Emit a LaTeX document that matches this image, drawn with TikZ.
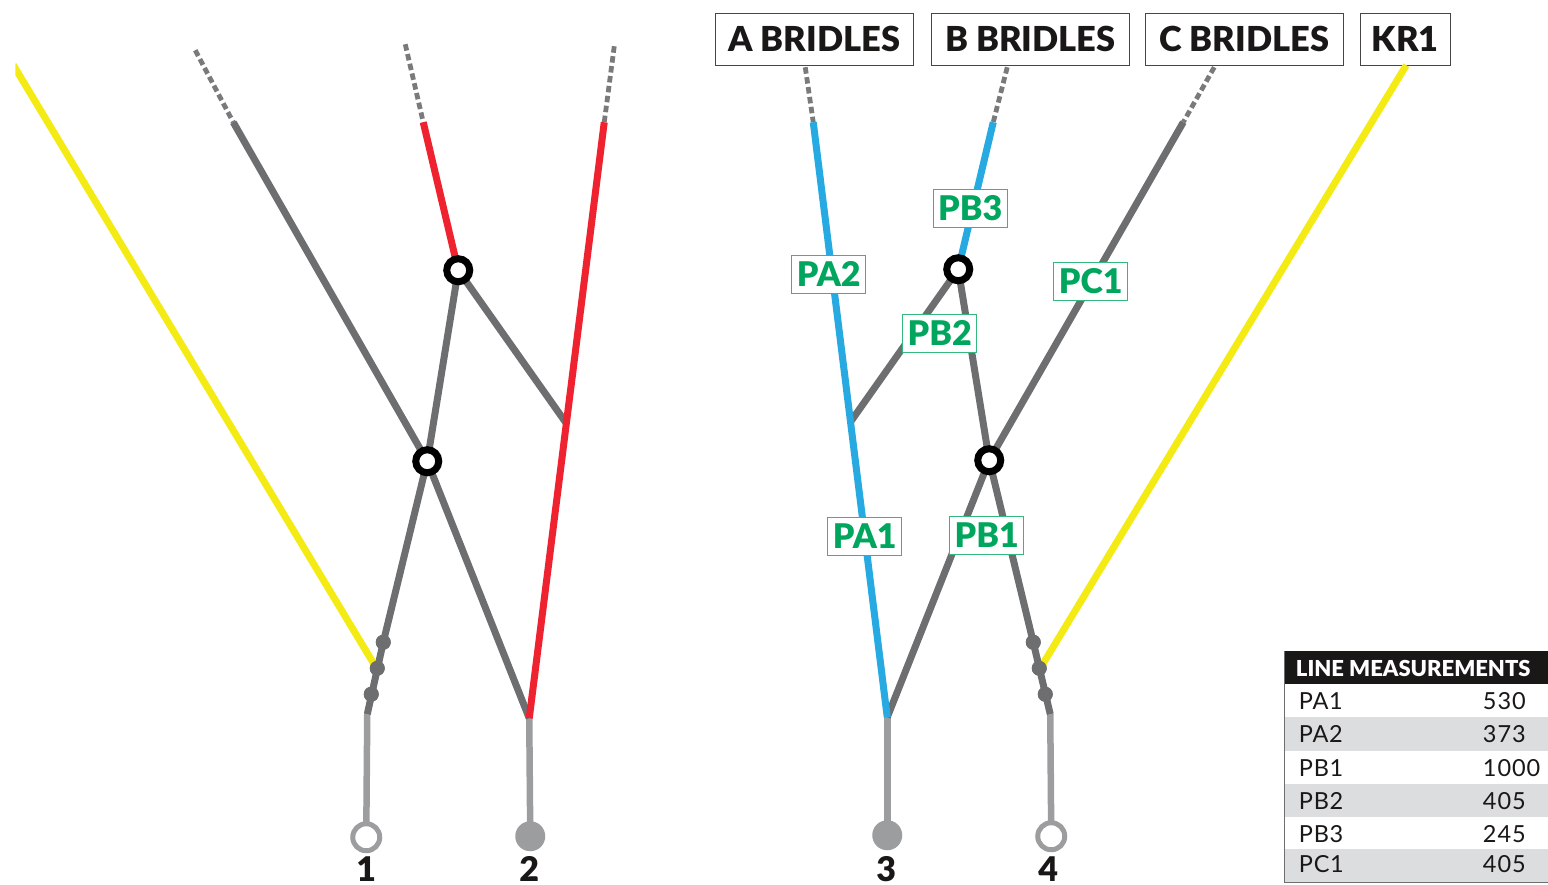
\documentclass[tikz,border=0pt]{standalone}
\usepackage{fontspec}
\setmainfont{Lato}
\newfontfamily\heavy{Lato Black}
\definecolor{dkg}{HTML}{6D6E70}
\definecolor{ltg}{HTML}{9C9D9F}
\definecolor{ylw}{HTML}{F5EB14}
\definecolor{rd}{HTML}{EF2330}
\definecolor{blu}{HTML}{27AAE1}
\definecolor{grn}{HTML}{00A65D}
\definecolor{ink}{HTML}{1A1717}
\definecolor{band}{HTML}{DCDDDF}
\tikzset{
 x=1pt,y=-1pt,
 wire/.style={line width=7pt,line cap=butt},
 graywire/.style={wire,draw=dkg},
 tail/.style={line width=6.5pt,draw=ltg},
 dash wire/.style={line width=4.8pt,draw=dkg!92,dash pattern=on 6.5pt off 3.5pt},
 junc/.style={circle,draw=black,fill=white,line width=7pt,minimum size=23pt,inner sep=0pt},
 bead/.style={circle,fill=dkg,minimum size=15pt,inner sep=0pt},
 openend/.style={circle,draw=ltg,fill=white,line width=5pt,minimum size=27pt,inner sep=0pt},
 fullend/.style={circle,fill=ltg,minimum size=30pt,inner sep=0pt},
 num/.style={font=\heavy\fontsize{34}{34}\selectfont,text=ink,inner sep=0pt},
 topbox/.style={draw=ink!80,fill=white,line width=1.3pt,minimum height=52pt,inner sep=0pt,font=\heavy\fontsize{34.4}{34.4}\selectfont,text=ink},
 tag/.style={draw=grn!80,fill=white,line width=1.1pt,minimum width=74pt,minimum height=38pt,inner sep=0pt,font=\heavy\fontsize{34}{34}\selectfont,text=grn},
 rowbar/.style={minimum width=264pt,minimum height=33.4pt,inner sep=0pt,anchor=north west},
 rowtxt/.style={font=\fontsize{23.5}{23.5}\selectfont,text=ink,anchor=west,inner sep=0pt},
}
\begin{document}
\begin{tikzpicture}
\useasboundingbox (-0.25,-0.25) rectangle (1547.75,884.75);
% free ends and bends
\coordinate (yl) at (13,64.7);
\coordinate (yle) at (375,666);
\coordinate (gd) at (195,50);
\coordinate (gs) at (233,122);
\coordinate (rd1) at (405,44);
\coordinate (rs1) at (423,122);
\coordinate (rd2) at (614,46);
\coordinate (rs2) at (604,122);
\coordinate (rj) at (566,423);
\coordinate (b2) at (529,718);
\coordinate (b1) at (367,714);
\coordinate (asol) at (813,122);
\coordinate (bsol) at (993,122);
\coordinate (csol) at (1183,122);
\coordinate (b3) at (887,717);
\coordinate (b4) at (1050,714);
\coordinate (aj) at (850,422);
\coordinate (yre) at (1040,668);
\coordinate (at) at (805,67);
\coordinate (bt) at (1007,67);
\coordinate (ct) at (1214,67);
\coordinate (kt) at (1406,65);
% nodes
\node[topbox,minimum width=198pt] (A) at (814,39) {A BRIDLES};
\node[topbox,minimum width=198pt] (B) at (1030,39) {B BRIDLES};
\node[topbox,minimum width=198pt] (C) at (1244,39) {C BRIDLES};
\node[topbox,minimum width=90pt] (K) at (1405,39) {KR1};
\node[bead] (l1) at (383,642) {};
\node[bead] (l2) at (377,668) {};
\node[bead] (l3) at (371,694) {};
\node[bead] (r1) at (1033,642) {};
\node[bead] (r2) at (1039,668) {};
\node[bead] (r3) at (1045,694) {};
\coordinate (J1) at (458,270);
\coordinate (J2) at (427,461);
\coordinate (J3) at (958,269);
\coordinate (J4) at (989,460);
\coordinate (e1) at (366,837);
\coordinate (e2) at (530,836);
\coordinate (e3) at (887,835);
\coordinate (e4) at (1051,836);
% left side
\begin{scope}
\clip (15,0) rectangle (1548,885);
\draw[wire,draw=ylw] (yl) -- (yle);
\end{scope}
\draw[dash wire] (gd) -- (gs);
\draw[dash wire] (rd1) -- (rs1);
\draw[dash wire] (rd2) -- (rs2);
\draw[tail] (b1) -- (e1);
\draw[tail] (b2) -- (e2);
\draw[graywire] (gs) -- (J2);
\draw[graywire] (J1) -- (J2);
\draw[graywire] (J1) -- (rj);
\draw[graywire] (J2) -- (l1.center) -- (b1);
\draw[graywire] (J2) -- (b2);
\draw[wire,draw=rd] (rs1) -- (J1);
\draw[wire,draw=rd] (rs2) -- (b2);
% right side
\draw[wire,draw=ylw] (kt) -- (yre);
\draw[dash wire] (at) -- (asol);
\draw[dash wire] (bt) -- (bsol);
\draw[dash wire] (ct) -- (csol);
\draw[tail] (b3) -- (e3);
\draw[tail] (b4) -- (e4);
\draw[graywire] (csol) -- (J4);
\draw[graywire] (J3) -- (aj);
\draw[graywire] (J3) -- (J4);
\draw[graywire] (J4) -- (b3);
\draw[graywire] (J4) -- (r1.center) -- (b4);
\draw[wire,draw=blu] (asol) -- (b3);
\draw[wire,draw=blu] (bsol) -- (J3);
% beads again on top
\node[bead] at (l1) {}; \node[bead] at (l2) {}; \node[bead] at (l3) {};
\node[bead] at (r1) {}; \node[bead] at (r2) {}; \node[bead] at (r3) {};
% junctions, ends
\node[junc] (j1) at (J1) {};
\node[junc] (j2) at (J2) {};
\node[junc] (j3) at (J3) {};
\node[junc] (j4) at (J4) {};
\node[openend] (n1) at (e1) {};
\node[fullend] (n2) at (e2) {};
\node[fullend] (n3) at (e3) {};
\node[openend] (n4) at (e4) {};
\node[num] (t1) at (366,869) {1};
\node[num] (t2) at (529,869) {2};
\node[num] (t3) at (886,869) {3};
\node[num] (t4) at (1048,869) {4};
% tags
\node[tag] (pb3) at (970,208) {PB3};
\node[tag] (pa2) at (828.5,274) {PA2};
\node[tag] (pc1) at (1090.5,281) {PC1};
\node[tag] (pb2) at (939.5,333) {PB2};
\node[tag] (pa1) at (864.5,536) {PA1};
\node[tag] (pb1) at (986.5,535) {PB1};
% table
\node[rowbar,fill=ink,minimum height=33pt] (h) at (1284.5,651) {};
\node[rowbar,fill=white] (r0) at (1284.5,684) {};
\node[rowbar,fill=band] (r4) at (1284.5,717) {};
\node[rowbar,fill=white] (r5) at (1284.5,750.4) {};
\node[rowbar,fill=band] (r6) at (1284.5,783.8) {};
\node[rowbar,fill=white,minimum height=32pt] (r7) at (1284.5,817) {};
\node[rowbar,fill=band,minimum height=33pt] (r8) at (1284.5,849) {};
\draw[line width=1.3pt,draw=dkg] (h.north west) -- (r8.south west) -- (r8.south east);
\node[font=\heavy\fontsize{22}{22}\selectfont,text=white,anchor=west,inner sep=0pt] (ht) at (1295.5,668) {LINE MEASUREMENTS};
\foreach \n/\a/\b/\y in {a/PA1/530/701,b/PA2/373/734,c/PB1/1000/768,d/PB2/405/801,e/PB3/245/834,f/PC1/405/864}{
  \node[rowtxt] (k\n) at (1298.5,\y) {\addfontfeature{LetterSpace=3}\a};
  \node[rowtxt] (v\n) at (1482.5,\y) {\addfontfeature{LetterSpace=4}\b};
}
\end{tikzpicture}
\end{document}
